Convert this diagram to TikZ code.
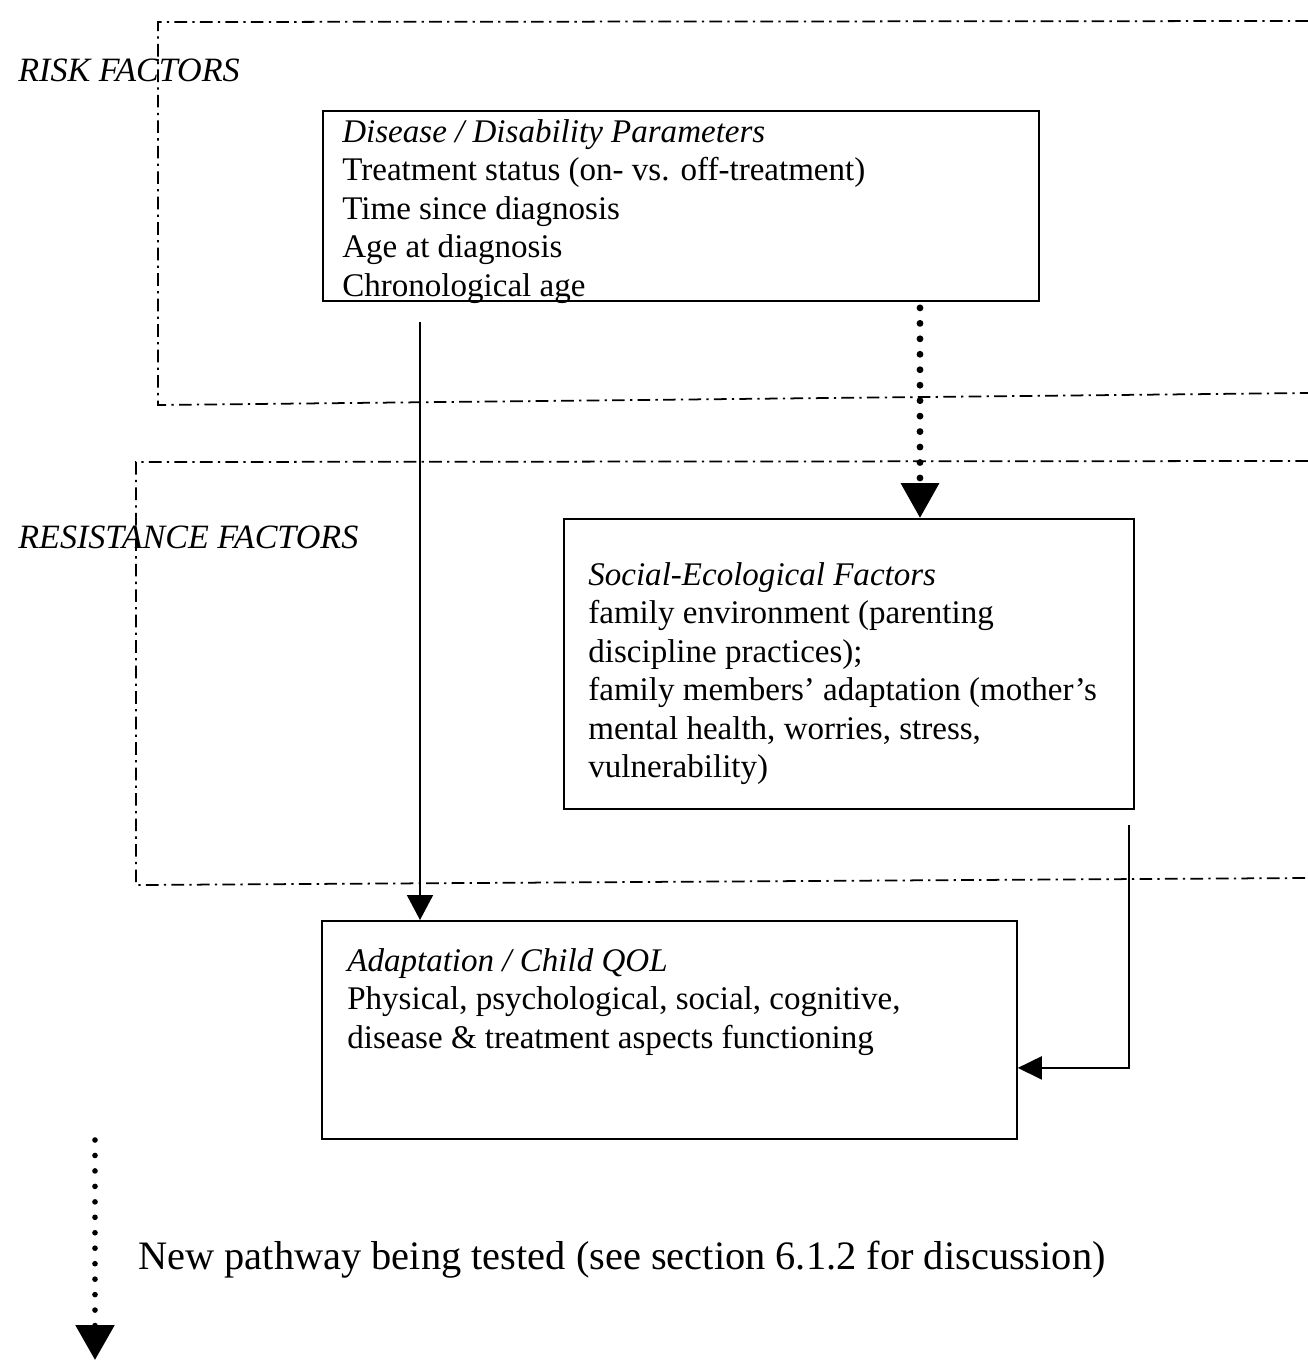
\documentclass[tikz,border=0pt]{standalone}
\usepackage{fontspec}
\setmainfont{Liberation Serif}
\usetikzlibrary{arrows.meta,calc,positioning}

\begin{document}
\begin{tikzpicture}[
  x=0.02cm, y=-0.02cm,
  font=\fontsize{18.8}{21.9}\selectfont,
  zone/.style={line width=1pt, dash pattern=on 7.2pt off 3pt on 1.3pt off 3pt},
  factorbox/.style={draw, line width=1.1pt, anchor=north west, inner sep=0pt},
  boxtext/.style={anchor=north west, align=left, inner sep=0pt},
  zonelabel/.style={anchor=west, inner sep=0pt, font=\fontsize{19.4}{22}\selectfont\itshape},
  flow/.style={-{Triangle[length=0.5cm, width=0.52cm]}, line width=1.1pt},
  sideflow/.style={-{Triangle[length=0.48cm, width=0.46cm]}, line width=1.1pt},
  newpath/.style={-{Triangle[length=0.7cm, width=0.74cm]}, line width=3.9pt, line cap=round, dash pattern=on 0pt off 8.8pt},
  legendpath/.style={-{Triangle[length=0.7cm, width=0.76cm]}, line width=3.2pt, line cap=round, dash pattern=on 0pt off 8.8pt}
]
\useasboundingbox (0,0) rectangle (1308,1360);

% zones
\draw[zone] (1308,21) -- (158,22) -- (158,405) -- (1308,393);
\draw[zone] (1308,461) -- (136,462) -- (136,885) -- (1308,878);
\node[zonelabel] (risklabel) at (18,70) {RISK FACTORS};
\node[zonelabel] (resistlabel) at (18,537) {RESISTANCE FACTORS};

% boxes
\node[factorbox, minimum width=14.32cm, minimum height=3.8cm] (disease) at (322,110) {};
\node[boxtext] (diseasetext) at ($(disease.north west)+(20,9)$) {\textit{Disease / Disability Parameters}\\
  Treatment status (on- vs. off-treatment)\\
  Time since diagnosis\\
  Age at diagnosis\\
  Chronological age};

\node[factorbox, minimum width=11.4cm, minimum height=5.8cm] (social) at (563,518) {};
\node[boxtext] (socialtext) at ($(social.north west)+(25,44)$) {\textit{Social-Ecological Factors}\\
  family environment (parenting\\
  discipline practices);\\
  family members' adaptation (mother's\\
  mental health, worries, stress,\\
  vulnerability)};

\node[factorbox, minimum width=13.9cm, minimum height=4.36cm] (adapt) at (321,920) {};
\node[boxtext] (adapttext) at ($(adapt.north west)+(26,28)$) {\textit{Adaptation / Child QOL}\\
  Physical, psychological, social, cognitive,\\
  disease \& treatment aspects functioning};

% pathways
\draw[flow] ($(disease.south west)+(98,20)$) -- ($(adapt.north west)+(99,0)$);
\coordinate (riskout) at ($(disease.south west)+(598,6)$);
\draw[newpath] (riskout) -- (riskout |- social.north);
\draw[sideflow] ($(social.south east)+(-6,15)$) |- ($(adapt.south east)+(0,-72)$);

% legend
\coordinate (legtop) at (95,1140);
\coordinate (legtip) at (95,1360);
\draw[legendpath] (legtop) -- (legtip);
\node[anchor=west, inner sep=0pt, font=\fontsize{23}{27}\selectfont] (legendtext) at (138,1260) {New pathway being tested (see section 6.1.2 for discussion)};
\end{tikzpicture}
\end{document}
